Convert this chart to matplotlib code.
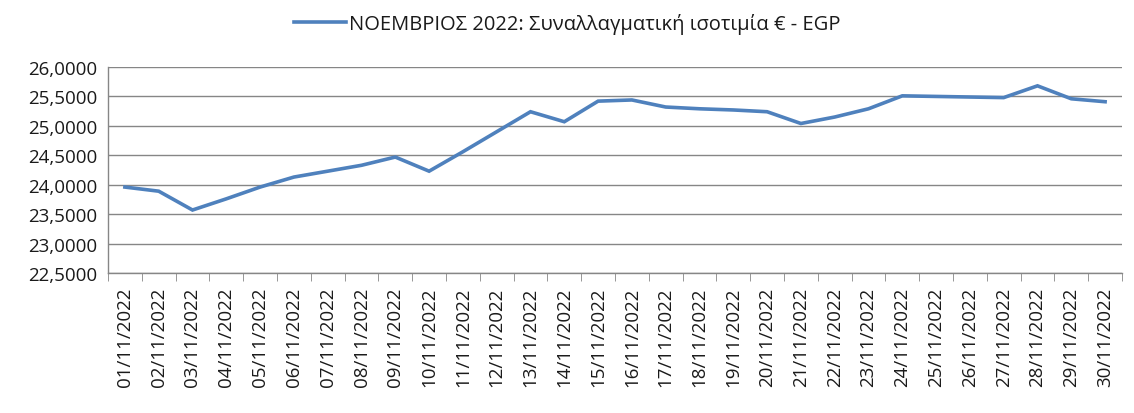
import matplotlib
matplotlib.use("Agg")
import matplotlib.pyplot as plt
import numpy as np

dates = [f"{d:02d}/11/2022" for d in range(1, 31)]
rates = [23.96, 23.89, 23.57, 23.76, 23.96, 24.13, 24.23, 24.33, 24.47, 24.23,
         24.56, 24.90, 25.24, 25.07, 25.42, 25.44, 25.32, 25.29, 25.27, 25.24,
         25.04, 25.15, 25.29, 25.51, 25.50, 25.49, 25.48, 25.68, 25.46, 25.41]
yticks = [22.5, 23.0, 23.5, 24.0, 24.5, 25.0, 25.5, 26.0]
series_label = "ΝΟΕΜΒΡΙΟΣ 2022: Συναλλαγματική ισοτιμία € - EGP"

plt.rcParams['font.family'] = ['Open Sans', 'DejaVu Sans']

fig = plt.figure(figsize=(11.34, 4.14), dpi=100)
ax = fig.add_axes([108/1134, 1-274/414, (1122-108)/1134, (274-68)/414])

x = np.arange(len(rates))
line, = ax.plot(x, rates, color='#4F81BD', lw=2.6, solid_joinstyle='miter', label=series_label)

ax.set_xlim(-0.5, len(rates)-0.5)
ax.set_ylim(22.5, 26.0)
ax.set_yticks(yticks)
ax.set_yticklabels([f"{v:.4f}".replace('.', ',') for v in yticks], fontsize=13.5, color='#1a1a1a')
ax.set_xticks(x)
ax.set_xticklabels(dates, rotation=90, fontsize=13.5, color='#1a1a1a')
ax.set_xticks(np.arange(-0.5, len(rates), 1), minor=True)
ax.tick_params(axis='x', which='major', length=0, pad=10)
ax.tick_params(axis='x', which='minor', length=6, color='#868686', direction='out')
ax.tick_params(axis='y', length=0, pad=8)
ax.grid(axis='y', color='#868686', lw=1)
ax.set_axisbelow(True)
for s in ['top', 'right']:
    ax.spines[s].set_visible(False)
for s in ['left', 'bottom']:
    ax.spines[s].set_color('#868686')
    ax.spines[s].set_linewidth(1)

leg = fig.legend(handles=[line], loc='upper center', bbox_to_anchor=(0.5, 1.01),
                 frameon=False, fontsize=14.5, handlelength=2.6, handletextpad=0.15)
for t in leg.get_texts():
    t.set_color('#1a1a1a')

fig.savefig('out.png', dpi=100)
